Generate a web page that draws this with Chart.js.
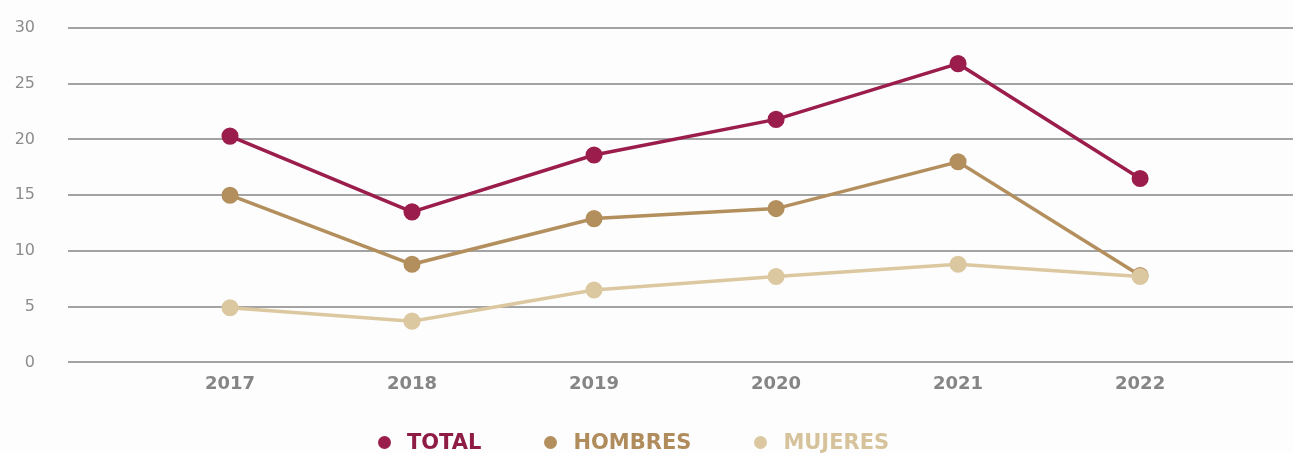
<!DOCTYPE html>
<html>
<head>
<meta charset="utf-8">
<script src="https://cdn.jsdelivr.net/npm/chart.js@4"></script>
<style>
  html, body { margin: 0; padding: 0; background: #fdfdfd; }
  #wrap { position: relative; width: 1293px; height: 453px; }
  #legend {
    position: absolute; left: 0; top: 430px; width: 1293px; height: 24px;
    display: flex; justify-content: center; align-items: center;
    padding-right: 26px; box-sizing: border-box;
    font-family: 'DejaVu Sans', sans-serif; font-weight: bold; font-size: 21px;
  }
  .item { display: flex; align-items: center; margin: 0 31.5px; }
  .dot { width: 13px; height: 13px; border-radius: 50%; margin-right: 16px; }
</style>
</head>
<body>
<div id="wrap">
  <canvas id="lineChart"></canvas>
  <div id="legend"></div>
</div>
<script>
const years = [2017, 2018, 2019, 2020, 2021, 2022];
const seriesNames = ['TOTAL', 'HOMBRES', 'MUJERES'];
const totalValues = [20.3, 13.5, 18.6, 21.8, 26.8, 16.5];
const hombresValues = [15.0, 8.8, 12.9, 13.8, 18.0, 7.8];
const mujeresValues = [4.9, 3.7, 6.5, 7.7, 8.8, 7.7];
const yTicks = [0, 5, 10, 15, 20, 25, 30];

const lineColors = ['#9b1d4b', '#b38f5e', '#dcc8a0'];
const textColors = ['#8e1c45', '#b08c5c', '#d6c39c'];

function points(values) {
    return values.map((v, i) => ({ x: years[i], y: v }));
}

const allValues = [totalValues, hombresValues, mujeresValues];
const drawOrder = [0, 2, 1];

const ctx = document.getElementById('lineChart').getContext('2d');
const chart = new Chart(ctx, {
    type: 'line',
    data: {
        datasets: seriesNames.map((name, i) => ({
            label: name,
            data: points(allValues[i]),
            borderColor: lineColors[i],
            backgroundColor: lineColors[i],
            pointBackgroundColor: lineColors[i],
            pointBorderColor: lineColors[i],
            borderWidth: 3.5,
            pointRadius: 6.8,
            tension: 0,
            order: drawOrder[i]
        }))
    },
    options: {
        responsive: true,
        maintainAspectRatio: false,
        animation: false,
        layout: { autoPadding: false, padding: { top: 28, right: 0, bottom: 55, left: 0 } },
        scales: {
            x: {
                type: 'linear',
                min: 2016.11,
                max: 2022.84,
                grid: { display: false },
                border: { display: false },
                ticks: {
                    stepSize: 1,
                    includeBounds: false,
                    padding: 3,
                    color: '#858585',
                    font: { family: 'DejaVu Sans', size: 18, weight: 'bold' },
                    callback: (v) => String(v)
                }
            },
            y: {
                min: 0,
                max: 30,
                afterBuildTicks: (axis) => { axis.ticks = yTicks.map(v => ({ value: v })); },
                afterFit: (axis) => {
                    axis.width = 68;
                    axis.paddingTop = 0;
                    axis.paddingBottom = 0;
                },
                grid: { color: '#a3a3a3', lineWidth: 2, drawTicks: false },
                border: { display: false },
                ticks: {
                    padding: 33,
                    color: '#8c8c8c',
                    font: { family: 'DejaVu Sans', size: 16 }
                }
            }
        },
        plugins: {
            tooltip: { enabled: false },
            legend: { display: false }
        }
    }
});

// leyenda en HTML a partir de los datasets
const legendEl = document.getElementById('legend');
chart.data.datasets.forEach((ds, i) => {
    const item = document.createElement('div');
    item.className = 'item';
    const dot = document.createElement('span');
    dot.className = 'dot';
    dot.style.background = lineColors[i];
    const label = document.createElement('span');
    label.textContent = ds.label;
    label.style.color = textColors[i];
    item.appendChild(dot);
    item.appendChild(label);
    legendEl.appendChild(item);
});
</script>
</body>
</html>
